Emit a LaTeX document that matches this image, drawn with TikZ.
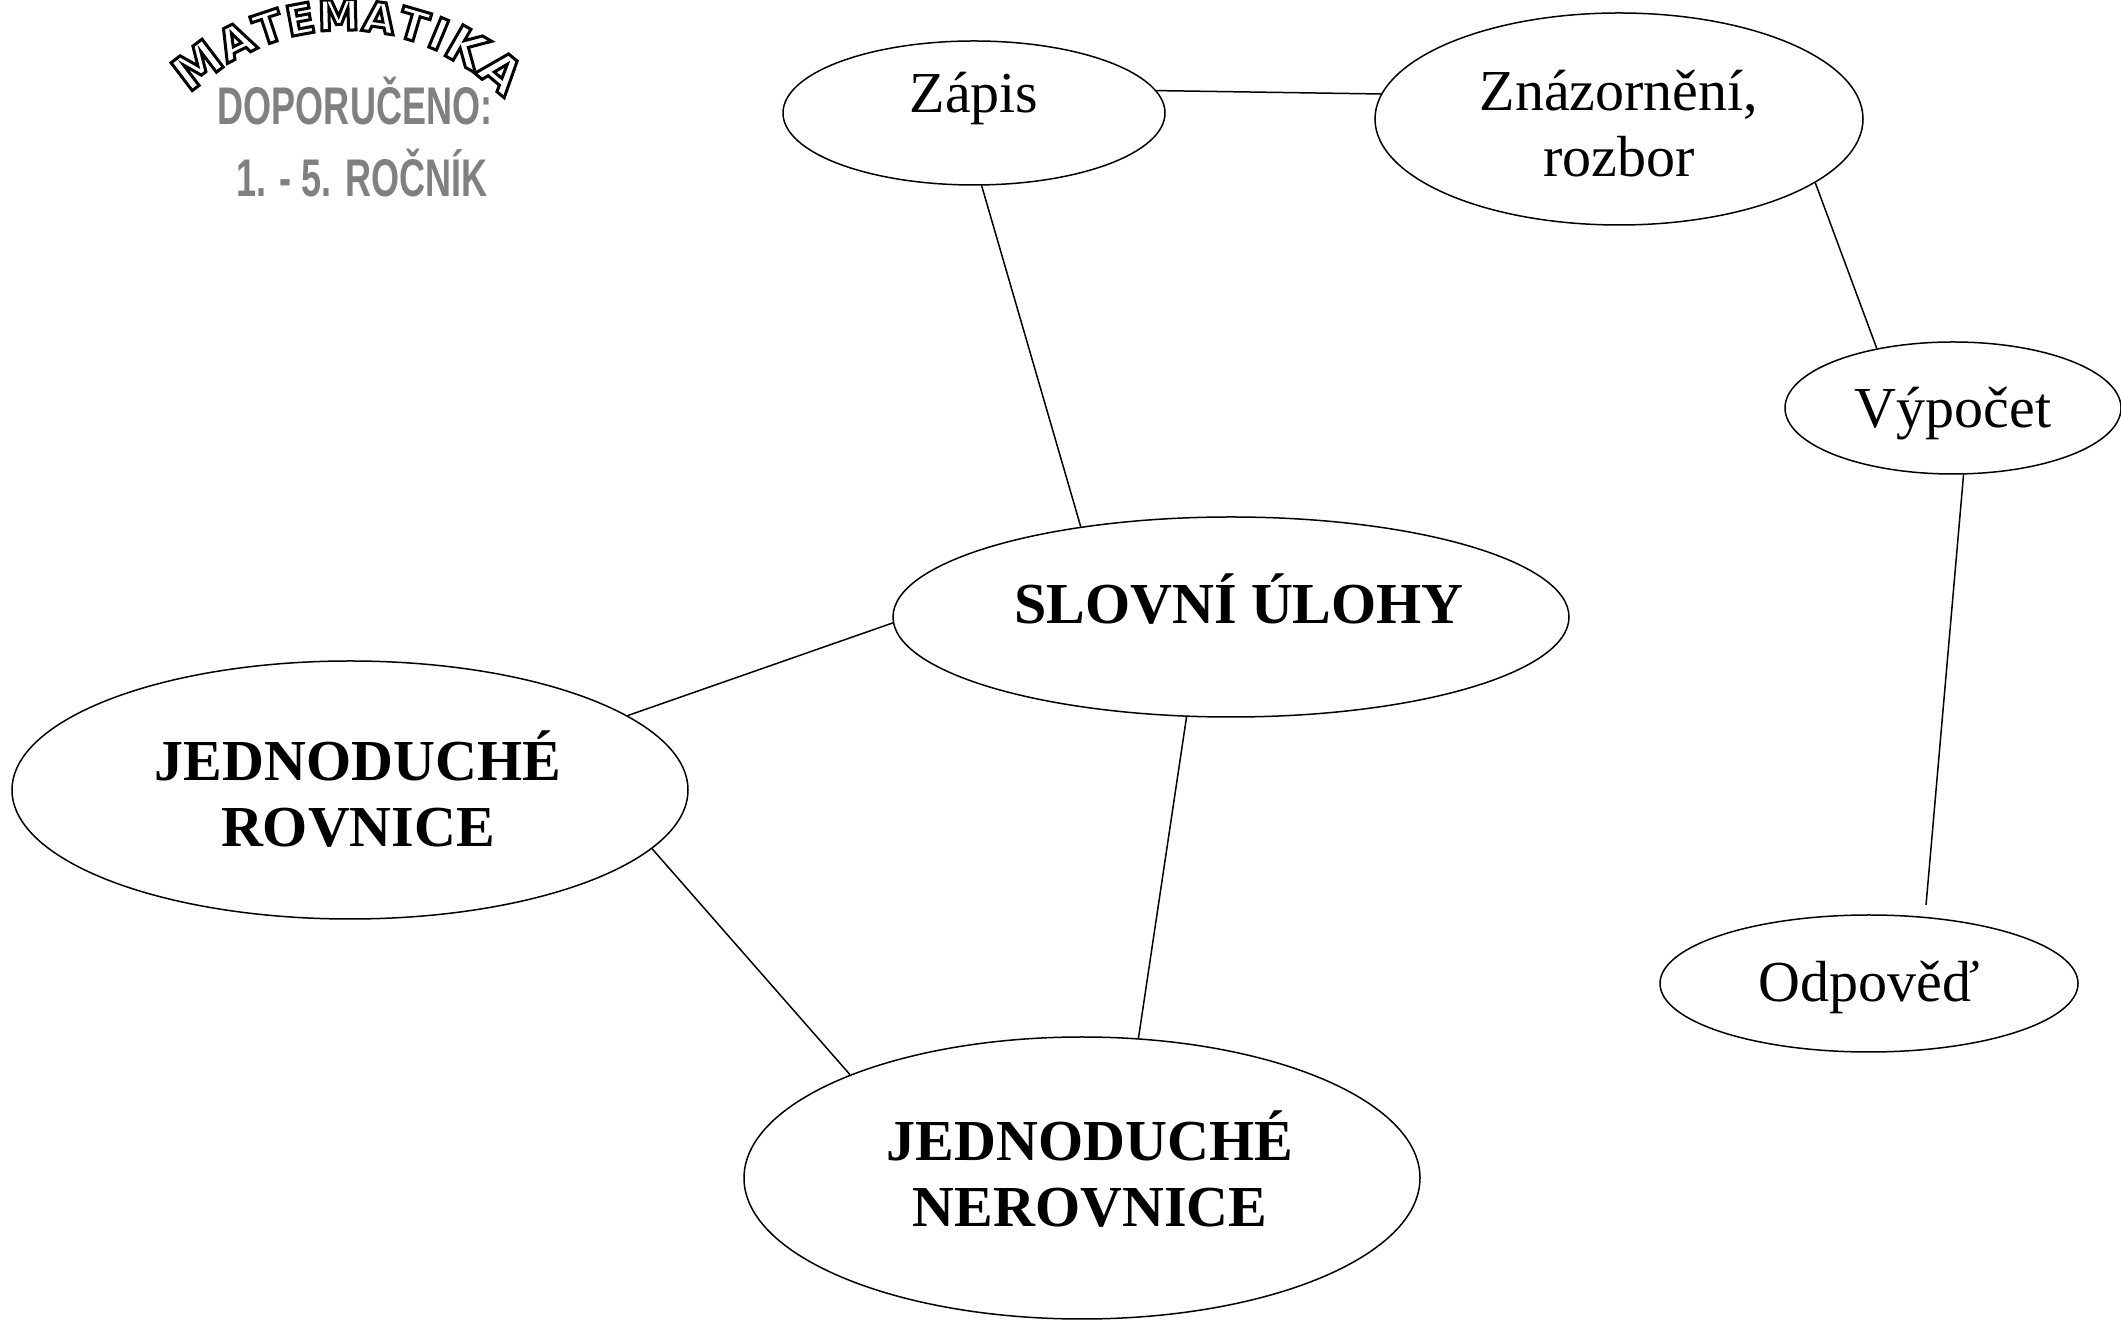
\documentclass[tikz,border=0pt]{standalone}
\usepackage{fontspec}
\setmainfont{Liberation Serif}
\newfontfamily\logofont{DejaVu Sans}[BoldFont={DejaVu Sans Bold}]
\newfontfamily\graysans{Liberation Sans}
\usetikzlibrary{shapes.geometric,calc}
\definecolor{logogray}{RGB}{128,128,128}
\newcommand\outlinedletter[1]{\special{pdf:literal direct 0 G 2 Tr 3 w}#1\special{pdf:literal direct 0 Tr 0.4 w}}
\newcommand\nudge{\hspace*{16pt}}
\tikzset{
  bubble/.style={ellipse, draw, line width=1.5pt, inner sep=0pt, align=center,
    font=\fontsize{58}{66}\selectfont},
  boldbubble/.style={bubble, font=\fontsize{58}{66}\selectfont\bfseries},
  link/.style={line width=1.5pt},
  archletter/.style={inner sep=0pt, text=white},
  graylabel/.style={inner sep=0pt, anchor=base, text=logogray,
    font=\graysans\bfseries\fontsize{53}{53}\selectfont}
}
\begin{document}
\begin{tikzpicture}[x=1pt,y=1pt]
\useasboundingbox (0,0) rectangle (2121,1320);

% bubbles
\node[bubble, minimum width=382pt, minimum height=144pt, text height=0pt, text depth=0pt] (zapis) at (974,1207) {Zápis};
\node[bubble, minimum width=488pt, minimum height=212pt, text height=116pt, text depth=0pt] (znaz) at (1619,1201) {Znázornění,\\rozbor};
\node[bubble, minimum width=336pt, minimum height=132pt, text height=40pt, text depth=0pt] (vyp) at (1953,912) {Výpočet};
\node[bubble, minimum width=418pt, minimum height=137pt, text height=37pt, text depth=0pt] (odp) at (1869,336.5) {Odpověď};
\node[boldbubble, minimum width=676pt, minimum height=200pt, text height=14pt, text depth=0pt] (slov) at (1231,703) {\nudge SLOVNÍ ÚLOHY};
\node[boldbubble, minimum width=676pt, minimum height=258pt, text height=114pt, text depth=0pt] (rov) at (350,530) {\nudge JEDNODUCHÉ\\\nudge ROVNICE};
\node[boldbubble, minimum width=676pt, minimum height=282pt, text height=98pt, text depth=0pt] (ner) at (1082,142) {\nudge JEDNODUCHÉ\\\nudge NEROVNICE};

% connectors
\draw[link] (zapis.7.2) -- (znaz.174.7);
\draw[link] (zapis.-84.4) -- (slov.149.6);
\draw[link] (znaz.-18.9) -- (vyp.142.2);
\draw[link, shorten >=12pt] (vyp.-81.8) -- (odp.50.2);
\draw[link] (slov.181.9) -- (rov.15.2);
\draw[link] (slov.246.6) -- (ner.68.5);
\draw[link] (rov.-11.4) -- (ner.156.7);

% logo texts
\node[graylabel] (doporuceno) at (355,1195) {\scalebox{0.68}[1]{DOPORUČENO:}};
\node[graylabel] (rocnik) at (362,1123) {\scalebox{0.68}[1]{1. - 5. ROČNÍK}};

\coordinate (archc) at (345,1061);
\foreach \ch/\ang/\fs [count=\i] in {M/127.3/48, A/116.7/45, T/108.3/43, E/100.6/42, M/91.5/42, A/81.9/42, T/73.7/43, I/67.4/44, K/60.1/49, A/50.2/50}
  \node[archletter, rotate=\ang-90, font=\logofont\bfseries\fontsize{\fs}{\fs}\selectfont] (logo\i) at ($(archc)+(\ang:244)$) {\outlinedletter{\ch}};
\end{tikzpicture}
\end{document}
